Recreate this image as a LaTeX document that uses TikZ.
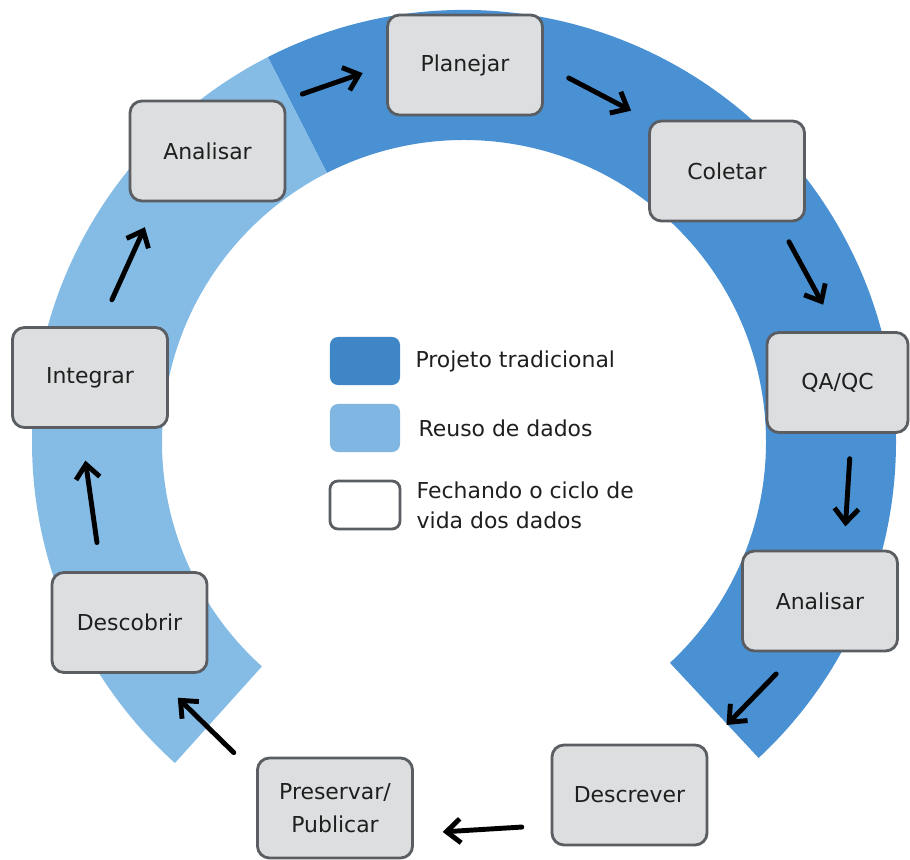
\documentclass[tikz,border=0pt]{standalone}
\usepackage{fontspec}
\setmainfont{DejaVu Sans}
\usetikzlibrary{calc, positioning, arrows.meta}

\definecolor{ringdark}{RGB}{73,145,210}
\definecolor{ringlight}{RGB}{133,188,230}
\definecolor{keydark}{RGB}{62,134,198}
\definecolor{keylight}{RGB}{127,183,226}
\definecolor{boxfill}{RGB}{220,222,223}
\definecolor{boxline}{RGB}{90,94,98}

\begin{document}
\begin{tikzpicture}[x=0.025cm, y=-0.025cm,
    stage/.style={draw=boxline, line width=2pt, fill=boxfill, rounded corners=0.3cm,
        minimum width=3.875cm, minimum height=2.5cm, align=center, text=black!88,
        font=\fontsize{15.6}{23.4}\selectfont},
    flow/.style={line width=3.5pt, line cap=round, -{Straight Barb[length=3.5mm, width=6mm]}},
    key/.style={minimum width=1.75cm, minimum height=1.2cm, rounded corners=0.2cm, inner sep=0pt},
    keytext/.style={inner sep=0pt, align=left, text=black!88, font=\fontsize{15.6}{21.3}\selectfont}]
    \useasboundingbox (0,0) rectangle (910,860);
    \coordinate (c) at (464,442);
    \fill[ringdark] ($(c)+(-117:432)$) arc[start angle=-117, end angle=47, radius=432]
        -- ($(c)+(47:302)$) arc[start angle=47, end angle=-117, radius=302] -- cycle;
    \fill[ringlight] ($(c)+(-117:432)$) arc[start angle=-117, end angle=-228, radius=432]
        -- ($(c)+(-228:302)$) arc[start angle=-228, end angle=-117, radius=302] -- cycle;

    \node[stage] (plan) at (465,65) {Planejar};
    \node[stage] (col) at (727,171) {Coletar};
    \node[stage, minimum width=3.525cm] (qa) at (837.5,382.5) {QA/QC};
    \node[stage] (ana2) at (820,601) {Analisar};
    \node[stage] (desc) at (629.5,795) {Descrever};
    \node[stage] (pres) at (335,808) {Preservar/\\Publicar};
    \node[stage] (disc) at (129.5,622.5) {Descobrir};
    \node[stage] (integ) at (90,377.5) {Integrar};
    \node[stage] (ana1) at (207.5,151) {Analisar};

    \draw[flow, shorten <=4.2mm, shorten >=6.2mm] (ana1.north east) -- (plan.west);
    \draw[flow, shorten <=7mm, shorten >=4.8mm] (plan.east) -- (col.north west);
    \draw[flow, shorten <=5.5mm, shorten >=7.5mm] (col.-45) -- (qa.north);
    \draw[flow, shorten <=6.2mm, shorten >=5.8mm] (qa.-75) -- (ana2.65);
    \draw[flow, shorten <=7.5mm, shorten >=6.5mm] (ana2.-114) -- (desc.north east);
    \draw[flow, shorten <=7.2mm, shorten >=7.2mm] (desc.201) -- (pres.-18);
    \draw[flow, shorten <=7.8mm, shorten >=8.5mm] (pres.157) -- (disc.-65);
    \draw[flow, shorten <=7.2mm, shorten >=8mm] (disc.119) -- (integ.-100);
    \draw[flow, shorten <=7.2mm, shorten >=6.8mm] (integ.79) -- (ana1.-135);

    \node[key, fill=keydark] (k1) at (365,361) {};
    \node[key, fill=keylight] (k2) at (365,428) {};
    \node[key, draw=boxline, line width=2pt, fill=white] (k3) at (365,505) {};
    \node[keytext, right=0.375cm of k1] (t1) {Projeto tradicional};
    \node[keytext, right=0.45cm of k2] (t2) {Reuso de dados};
    \node[keytext, right=0.375cm of k3] (t3) {Fechando o ciclo de\\vida dos dados};
\end{tikzpicture}
\end{document}
